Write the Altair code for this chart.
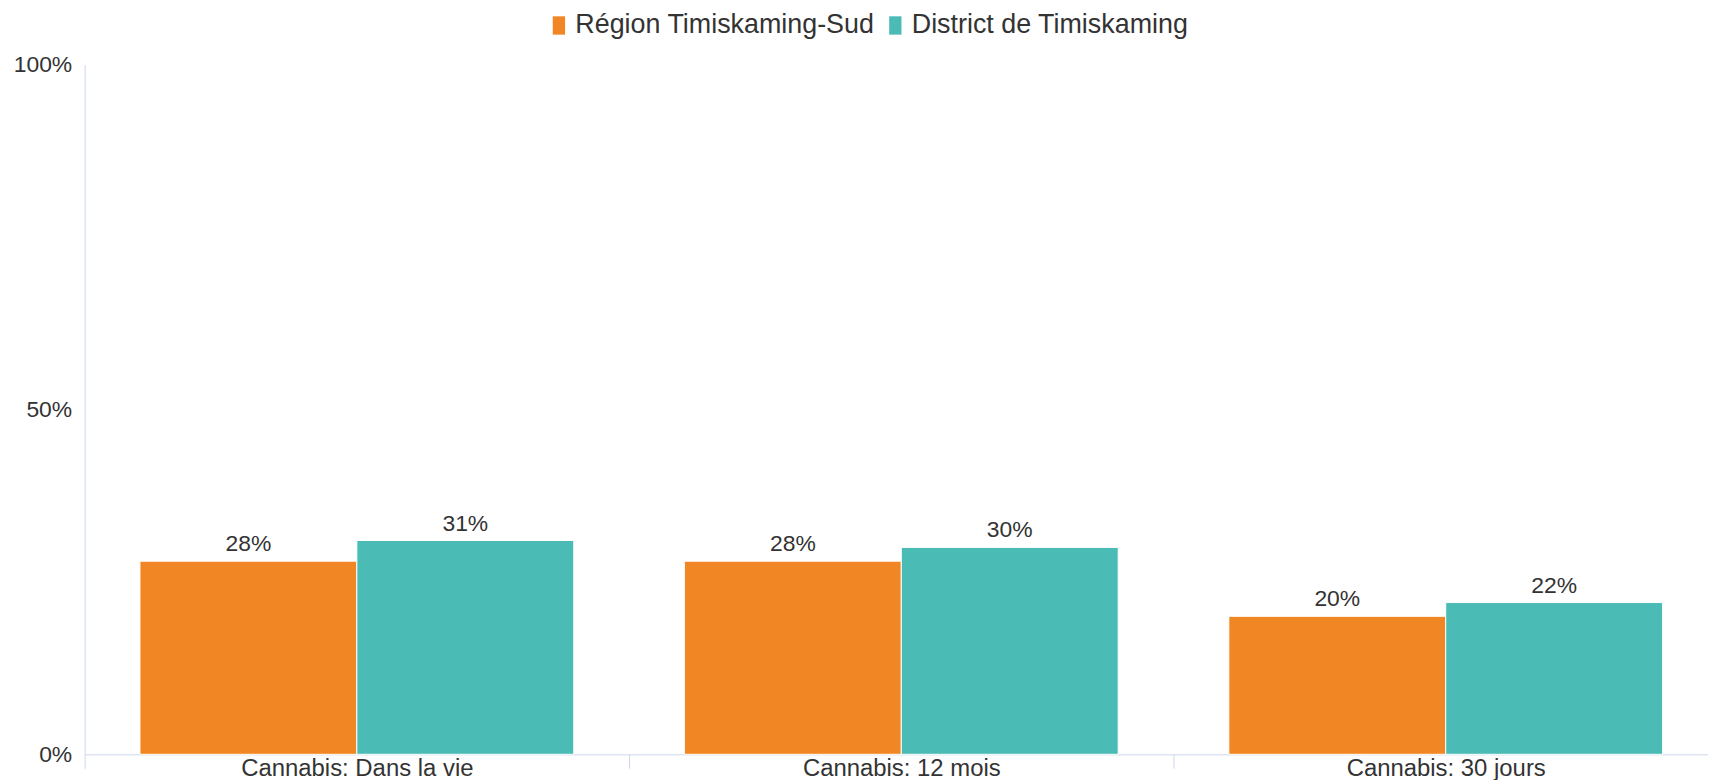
import altair as alt
import pandas as pd

categories = ["Cannabis: Dans la vie", "Cannabis: 12 mois", "Cannabis: 30 jours"]
series_names = ["Région Timiskaming-Sud", "District de Timiskaming"]
region_values = [28, 28, 20]
district_values = [31, 30, 22]
colors = ["#F08724", "#4BBBB6"]
y_ticks = [0, 50, 100]

rows = []
for i, c in enumerate(categories):
    rows.append({"cat": c, "serie": series_names[0], "val": region_values[i]})
    rows.append({"cat": c, "serie": series_names[1], "val": district_values[i]})
df = pd.DataFrame(rows)
df["lab"] = df["val"].astype(str) + "%"

FONT = "Liberation Sans"
AXIS_C = "#ccd6eb"
TXT_C = "#333333"

x_enc = alt.X(
    "cat:N",
    sort=categories,
    title=None,
    scale=alt.Scale(paddingInner=0, paddingOuter=0, range=[0, 1641]),
    axis=alt.Axis(
        tickBand="extent",
        tickSize=14,
        tickColor=AXIS_C,
        domainColor=AXIS_C,
        labelPadding=-12,
        labelFontSize=24,
        labelFont=FONT,
        labelColor=TXT_C,
        labelAngle=0,
        labelLimit=600,
        grid=False,
    ),
)
xo_enc = alt.XOffset(
    "serie:N",
    sort=series_names,
    scale=alt.Scale(paddingInner=0, paddingOuter=0.255),
)
y_enc = alt.Y(
    "val:Q",
    title=None,
    scale=alt.Scale(domain=[0, 100], nice=False),
    axis=alt.Axis(
        values=y_ticks,
        labelExpr="datum.value + '%'",
        ticks=False,
        grid=False,
        domainColor=AXIS_C,
        labelPadding=13,
        labelFontSize=23,
        labelFont=FONT,
        labelColor=TXT_C,
    ),
)

bars = alt.Chart(df).mark_bar(stroke="white", strokeWidth=1).encode(
    x=x_enc,
    xOffset=xo_enc,
    y=y_enc,
    color=alt.Color(
        "serie:N",
        sort=series_names,
        scale=alt.Scale(domain=series_names, range=colors),
        legend=alt.Legend(
            title=None,
            orient="none",
            direction="horizontal",
            legendX=463,
            legendY=-53,
            symbolType="M-0.67,-1H0.67V1H-0.67Z",
            symbolSize=340,
            symbolStrokeWidth=0,
            labelFontSize=27,
            labelFont=FONT,
            labelColor=TXT_C,
            labelOffset=3,
            columnPadding=7,
            labelLimit=600,
        ),
    ),
)

texts = alt.Chart(df).mark_text(
    baseline="bottom", dy=-5, fontSize=23, font=FONT, color=TXT_C
).encode(
    x=alt.X("cat:N", sort=categories),
    xOffset=alt.XOffset("serie:N", sort=series_names),
    y=alt.Y("val:Q"),
    text="lab:N",
)

chart = (
    alt.layer(bars, texts)
    .properties(
        width=1631,
        height=693,
        autosize=alt.AutoSizeParams(type="none"),
        padding={"left": 77, "top": 55, "right": 0, "bottom": 24},
        background="white",
    )
    .configure_view(stroke=None)
)

chart.save("out.html", embed_options={"renderer": "svg", "actions": False})
